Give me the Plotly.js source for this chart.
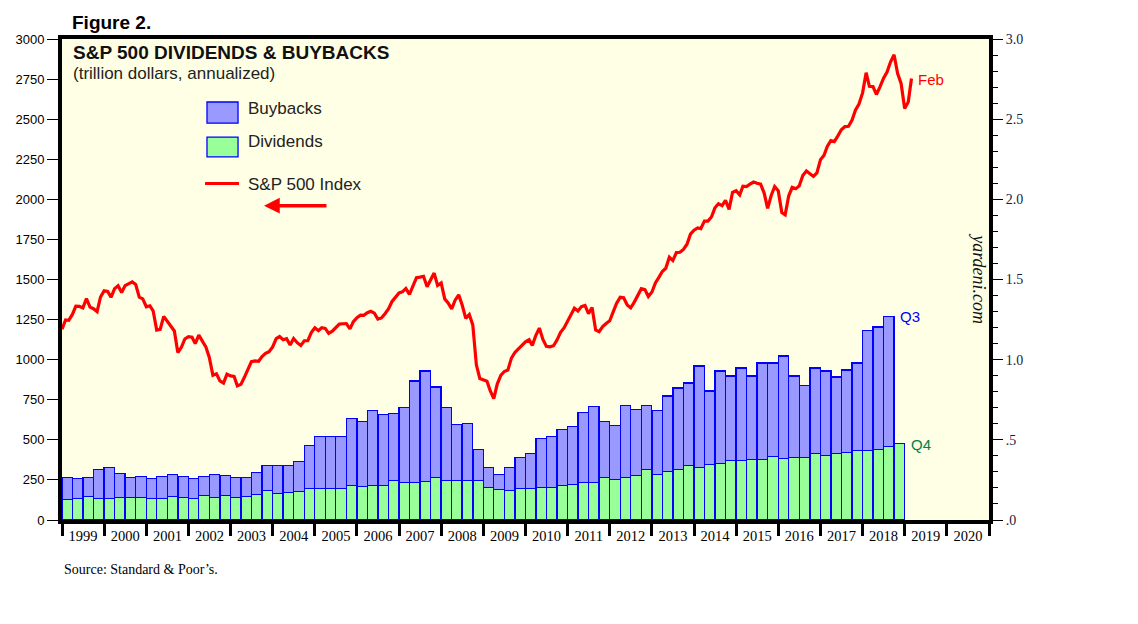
<!DOCTYPE html>
<html>
<head>
<meta charset="utf-8">
<script src="https://cdn.plot.ly/plotly-3.0.1.min.js"></script>
<style>
  body { margin: 0; background: #fff; }
  #chart { width: 1138px; height: 624px; }
</style>
</head>
<body>
<div id="chart"></div>
<script>
// quarterly, trillion dollars annualized, starting Q1 1999
const dividends = [
  0.128, 0.135, 0.147, 0.135,  0.135, 0.141, 0.141, 0.141,  // 1999-2000
  0.135, 0.135, 0.147, 0.141,  0.135, 0.153, 0.141, 0.153,  // 2001-2002
  0.141, 0.147, 0.160, 0.186,  0.166, 0.172, 0.178, 0.197,  // 2003-2004
  0.197, 0.197, 0.197, 0.215,  0.209, 0.215, 0.215, 0.246,  // 2005-2006
  0.234, 0.234, 0.240, 0.265,  0.246, 0.246, 0.246, 0.246,  // 2007-2008
  0.203, 0.190, 0.184, 0.197,  0.197, 0.203, 0.203, 0.215,  // 2009-2010
  0.222, 0.234, 0.234, 0.265,  0.253, 0.265, 0.277, 0.315,  // 2011-2012
  0.284, 0.302, 0.315, 0.340,  0.327, 0.346, 0.352, 0.371,  // 2013-2014
  0.371, 0.377, 0.377, 0.396,  0.383, 0.389, 0.389, 0.414,  // 2015-2016
  0.402, 0.414, 0.420, 0.433,  0.433, 0.439, 0.458, 0.476   // 2017-2018
];
const buybacks = [
  0.137, 0.124, 0.118, 0.180,  0.192, 0.149, 0.124, 0.130,
  0.124, 0.136, 0.137, 0.130,  0.124, 0.118, 0.143, 0.124,
  0.124, 0.118, 0.136, 0.154,  0.174, 0.168, 0.186, 0.267,
  0.323, 0.323, 0.323, 0.417,  0.404, 0.466, 0.441, 0.417,
  0.466, 0.633, 0.690, 0.565,  0.454, 0.348, 0.354, 0.193,
  0.124, 0.094, 0.143, 0.192,  0.217, 0.304, 0.317, 0.348,
  0.360, 0.435, 0.472, 0.348,  0.335, 0.447, 0.411, 0.397,
  0.397, 0.472, 0.509, 0.515,  0.634, 0.459, 0.578, 0.528,
  0.577, 0.522, 0.602, 0.583,  0.640, 0.510, 0.448, 0.534,
  0.528, 0.478, 0.516, 0.546,  0.751, 0.764, 0.813
];

// S&P 500 index, monthly, Dec 1998 .. Feb 2019 (plotted at month end)
const spx = [
  1190,
  1248, 1246, 1282, 1334, 1332, 1323, 1381, 1328, 1318, 1300, 1391, 1429,
  1425, 1389, 1443, 1461, 1419, 1462, 1473, 1485, 1469, 1390, 1379, 1330,
  1336, 1305, 1185, 1189, 1270, 1238, 1205, 1179, 1044, 1077, 1129, 1144,
  1140, 1100, 1153, 1112, 1080, 1014,  903,  912,  867,  854,  910,  899,
   895,  837,  846,  890,  936,  988,  992,  990, 1019, 1039, 1050, 1080,
  1132, 1144, 1124, 1131, 1091, 1132, 1106, 1088, 1118, 1118, 1169, 1199,
  1181, 1199, 1195, 1164, 1178, 1202, 1222, 1224, 1225, 1192, 1237, 1262,
  1278, 1277, 1293, 1302, 1290, 1253, 1260, 1287, 1317, 1363, 1389, 1416,
  1424, 1444, 1407, 1463, 1511, 1515, 1520, 1455, 1497, 1540, 1463, 1479,
  1379, 1354, 1317, 1371, 1404, 1341, 1257, 1281, 1217,  968,  883,  877,
   866,  806,  757,  848,  902,  926,  935, 1010, 1045, 1067, 1088, 1111,
  1124, 1089, 1152, 1197, 1126, 1083, 1080, 1087, 1122, 1171, 1198, 1242,
  1282, 1321, 1304, 1331, 1338, 1287, 1325, 1185, 1174, 1207, 1226, 1243,
  1300, 1352, 1389, 1386, 1341, 1323, 1359, 1403, 1443, 1437, 1394, 1422,
  1480, 1512, 1550, 1570, 1639, 1618, 1668, 1670, 1687, 1720, 1783, 1807,
  1822, 1817, 1864, 1864, 1890, 1947, 1973, 1961, 1993, 1937, 2044, 2054,
  2028, 2082, 2080, 2095, 2108, 2100, 2095, 2039, 1944, 2024, 2080, 2054,
  1918, 1904, 2022, 2075, 2066, 2084, 2149, 2177, 2158, 2143, 2165, 2247,
  2275, 2330, 2366, 2360, 2396, 2434, 2454, 2456, 2493, 2557, 2594, 2664,
  2790, 2705, 2703, 2654, 2701, 2754, 2794, 2858, 2902, 2785, 2723, 2567,
  2607, 2754
];

const rightTickVals = [0, 0.5, 1, 1.5, 2, 2.5, 3];
const rightTickText = ['.0', '.5', '1.0', '1.5', '2.0', '2.5', '3.0'];

function pad(n) { return (n < 10 ? '0' : '') + n; }

// first day of month, counting months from Jan 1999
function monthDate(i) {
  const d = new Date(Date.UTC(1999, i, 1));
  return d.getUTCFullYear() + '-' + pad(d.getUTCMonth() + 1) + '-01';
}

const quarters = dividends.map((_, i) => monthDate(i * 3));
const spxDates = spx.map((_, i) => monthDate(i));  // Dec 1998 lands on 1999-01-01

const SANS = 'Liberation Sans, Arial, sans-serif';
const SERIF = 'Liberation Serif, Times New Roman, serif';

var divTrace = {
  x: quarters, y: dividends, type: 'bar', name: 'Dividends',
  xperiod: 'M3', xperiodalignment: 'middle',
  marker: { color: '#99FF99', line: { color: '#0000FF', width: 1.3 } },
  hoverinfo: 'x+y'
};
var buyTrace = {
  x: quarters.slice(0, buybacks.length), y: buybacks, type: 'bar', name: 'Buybacks',
  xperiod: 'M3', xperiodalignment: 'middle',
  marker: { color: '#9999FF', line: { color: '#0000FF', width: 1.3 } },
  hoverinfo: 'x+y'
};
var spxTrace = {
  x: spxDates, y: spx, type: 'scatter', mode: 'lines', name: 'S&P 500 Index',
  yaxis: 'y2',
  line: { color: '#FF0000', width: 3.2 }
};

var data = [divTrace, buyTrace, spxTrace];

var layout = {
  width: 1138, height: 624,
  margin: { l: 62, r: 149, t: 39, b: 104 },
  paper_bgcolor: '#FFFFFF',
  plot_bgcolor: '#FFFFE5',
  barmode: 'stack', bargap: 0,
  showlegend: false,
  xaxis: {
    type: 'date', range: ['1999-01-01', '2021-01-01'],
    tickmode: 'linear', tick0: '1999-01-01', dtick: 'M12',
    ticklabelmode: 'period', tickformat: '%Y',
    ticks: 'outside', ticklen: 12, tickwidth: 3, tickcolor: '#000',
    ticklabelstandoff: -12,
    showline: true, linewidth: 4, linecolor: '#000', mirror: true,
    showgrid: false, zeroline: false,
    tickfont: { family: SERIF, size: 14.5, color: '#000' }
  },
  yaxis: {
    side: 'right', range: [0, 3],
    tickmode: 'array', tickvals: rightTickVals, ticktext: rightTickText,
    ticks: 'outside', ticklen: 10, tickwidth: 1, tickcolor: '#000',
    minor: { dtick: 0.1, ticks: 'outside', ticklen: 5, tickwidth: 1, tickcolor: '#000' },
    showline: true, linewidth: 4, linecolor: '#000',
    showgrid: false, zeroline: false,
    tickfont: { family: SERIF, size: 14, color: '#1a1a3a' }
  },
  yaxis2: {
    overlaying: 'y', side: 'left', range: [0, 3000], dtick: 250,
    ticks: 'outside', ticklen: 11, tickwidth: 1, tickcolor: '#000',
    showline: true, linewidth: 4, linecolor: '#000',
    showgrid: false, zeroline: false,
    tickfont: { family: SANS, size: 13, color: '#000' }
  },
  shapes: [
    { type: 'rect', xref: 'paper', yref: 'paper', x0: 0.1564, x1: 0.1899, y0: 0.825, y1: 0.869,
      fillcolor: '#9999FF', line: { color: '#0000FF', width: 1.3 } },
    { type: 'rect', xref: 'paper', yref: 'paper', x0: 0.1564, x1: 0.1899, y0: 0.755, y1: 0.796,
      fillcolor: '#99FF99', line: { color: '#0000FF', width: 1.3 } },
    { type: 'line', xref: 'paper', yref: 'paper', x0: 0.1543, x1: 0.1910, y0: 0.6996, y1: 0.6996,
      line: { color: '#FF0000', width: 3.2 } }
  ],
  annotations: [
    { xref: 'paper', yref: 'paper', x: 0.0086, y: 1.035, xanchor: 'left', yanchor: 'middle',
      text: '<b>Figure 2.</b>', showarrow: false, font: { family: SANS, size: 19, color: '#000' } },
    { xref: 'paper', yref: 'paper', x: 0.0097, y: 0.971, xanchor: 'left', yanchor: 'middle',
      text: '<b>S&P 500 DIVIDENDS & BUYBACKS</b>', showarrow: false,
      font: { family: SANS, size: 19, color: '#111' } },
    { xref: 'paper', yref: 'paper', x: 0.0097, y: 0.929, xanchor: 'left', yanchor: 'middle',
      text: '(trillion dollars, annualized)', showarrow: false,
      font: { family: SANS, size: 17, color: '#222' } },
    { xref: 'paper', yref: 'paper', x: 0.1985, y: 0.8565, xanchor: 'left', yanchor: 'middle',
      text: 'Buybacks', showarrow: false, font: { family: SANS, size: 17, color: '#222' } },
    { xref: 'paper', yref: 'paper', x: 0.1985, y: 0.786, xanchor: 'left', yanchor: 'middle',
      text: 'Dividends', showarrow: false, font: { family: SANS, size: 17, color: '#222' } },
    { xref: 'paper', yref: 'paper', x: 0.1985, y: 0.6985, xanchor: 'left', yanchor: 'middle',
      text: 'S&P 500 Index', showarrow: false, font: { family: SANS, size: 17, color: '#222' } },
    { xref: 'paper', yref: 'paper', x: 0.2179, y: 0.6534, ax: 64, ay: 0,
      text: '', showarrow: true, arrowhead: 2, arrowsize: 0.9, arrowwidth: 3.5, arrowcolor: '#FF0000' },
    { xref: 'paper', yref: 'paper', x: 0.9895, y: 0.502, xanchor: 'center', yanchor: 'middle',
      text: '<i>yardeni.com</i>', textangle: 90, showarrow: false,
      font: { family: SERIF, size: 18, color: '#111' } },
    { xref: 'x', yref: 'y2', x: '2019-04-10', y: 2750, xanchor: 'left', yanchor: 'middle',
      text: 'Feb', showarrow: false, font: { family: SANS, size: 15, color: '#FF0000' } },
    { xref: 'x', yref: 'y', x: '2018-11-01', y: 1.27, xanchor: 'left', yanchor: 'middle',
      text: 'Q3', showarrow: false, font: { family: SANS, size: 15, color: '#0000FF' } },
    { xref: 'x', yref: 'y', x: '2019-02-08', y: 0.474, xanchor: 'left', yanchor: 'middle',
      text: 'Q4', showarrow: false, font: { family: SANS, size: 15, color: '#00804A' } },
    { xref: 'paper', yref: 'paper', x: 0.0, y: -0.102, xanchor: 'left', yanchor: 'middle',
      text: 'Source: Standard & Poor\u2019s.', showarrow: false,
      font: { family: SERIF, size: 14, color: '#000' } }
  ]
};

Plotly.newPlot('chart', data, layout, { displayModeBar: false, staticPlot: true });
</script>
</body>
</html>
